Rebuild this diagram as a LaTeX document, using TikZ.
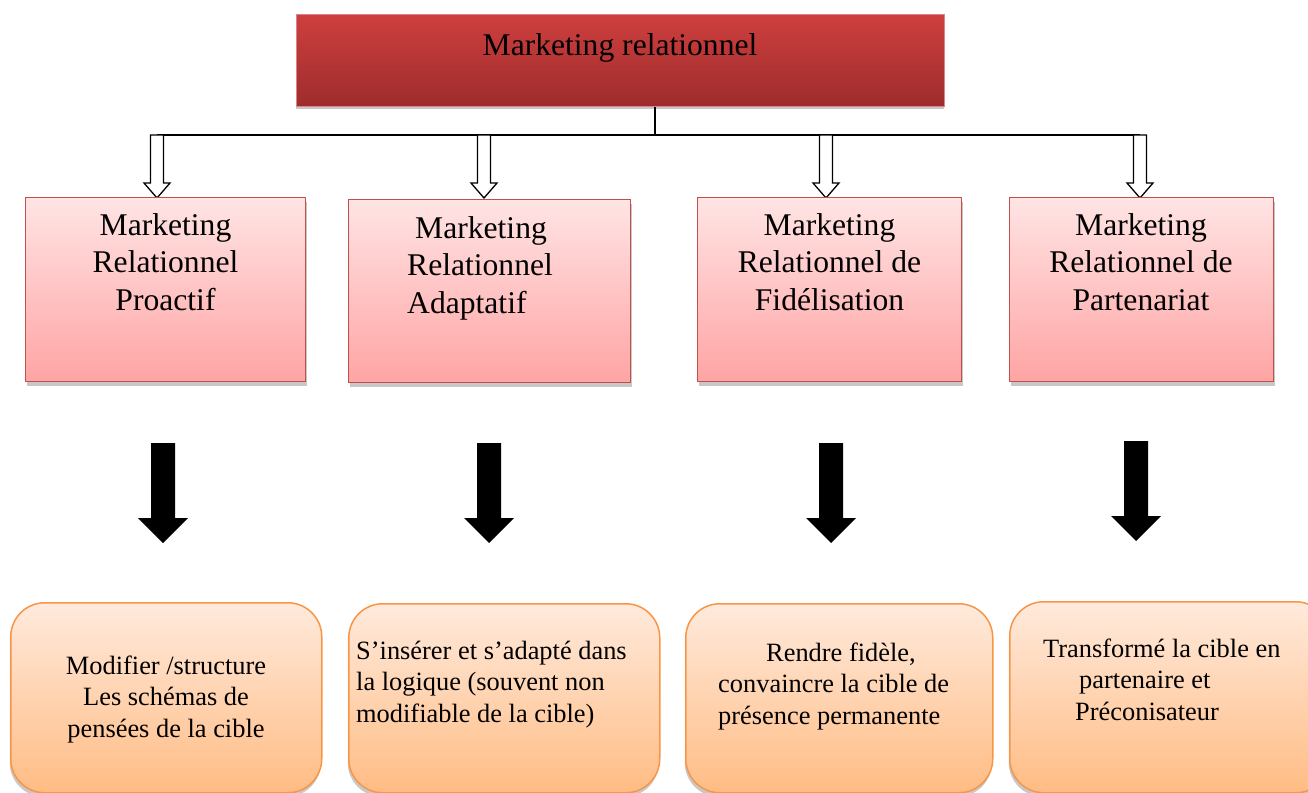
\documentclass[tikz,border=0pt]{standalone}
\usepackage{fontspec}
\setmainfont{Liberation Serif}
\usetikzlibrary{shadows}

\definecolor{headtop}{HTML}{CE3F3F}
\definecolor{headbot}{HTML}{9E2C2C}
\definecolor{headedge}{HTML}{D98585}
\definecolor{pinktop}{HTML}{FFE4E4}
\definecolor{pinkbot}{HTML}{FFA4A4}
\definecolor{pinkedge}{HTML}{C0504D}
\definecolor{orangetop}{HTML}{FFEADC}
\definecolor{orangebot}{HTML}{FFBC84}
\definecolor{orangeedge}{HTML}{F79646}
\definecolor{shadowgray}{HTML}{C8C8C8}

\begin{document}
\begin{tikzpicture}[x=1pt,y=-1pt,
  headbox/.style={draw=headedge, line width=0.8pt, top color=headtop, bottom color=headbot,
    drop shadow={shadow xshift=0pt, shadow yshift=-3pt, fill=shadowgray, opacity=1},
    inner sep=0pt, anchor=north west},
  pinkbox/.style={draw=pinkedge, line width=1.2pt, top color=pinktop, bottom color=pinkbot,
    drop shadow={shadow xshift=1pt, shadow yshift=-4pt, fill=shadowgray, opacity=1},
    inner sep=0pt, anchor=north west},
  orangebox/.style={draw=orangeedge, line width=1.5pt, top color=orangetop, bottom color=orangebot,
    rounded corners=34pt,
    drop shadow={shadow xshift=-1pt, shadow yshift=-4pt, fill=shadowgray, opacity=1},
    inner sep=0pt, anchor=north west},
  % multi-line texts are placed by the baseline of their last line
  bigtext/.style={font=\fontsize{31.6}{37.5}\selectfont, inner sep=0pt, anchor=base},
  smalltext/.style={font=\fontsize{26.4}{31.5}\selectfont, inner sep=0pt, anchor=base},
  hollowarrow/.pic={
    \draw[line width=1.3pt, fill=white] (-6.5,0) -- (-6.5,48) -- (-13,48) -- (0,63)
      -- (13,48) -- (6.5,48) -- (6.5,0) -- cycle;},
  solidarrow/.pic={
    \fill[black] (-12,0) -- (-12,75) -- (-25,75) -- (0,100) -- (25,75) -- (12,75)
      -- (12,0) -- cycle;}
]
\useasboundingbox (0,0) rectangle (1308,792);
\clip (0,0) rectangle (1308,792);

% head box
\node[headbox, minimum width=648pt, minimum height=92pt] (top) at (296,14) {};
\node[bigtext] (toptext) at (620,56) {Marketing relationnel};

% bus from the head box to the four branches
\coordinate (bus1) at (157,135);
\coordinate (bus2) at (484,135);
\coordinate (bus3) at (826,135);
\coordinate (bus4) at (1140,135);
\draw[line width=1.3pt] (top.south -| 655,0) -- (655,135);
\draw[line width=1.3pt] (bus1) -- (bus4);
\foreach \b in {bus1,bus2,bus3,bus4}
  \pic at (\b) {hollowarrow};

% second level
\node[pinkbox, minimum width=280pt, minimum height=184pt] (p1) at (25,197) {};
\node[pinkbox, minimum width=282pt, minimum height=183pt] (p2) at (348,199) {};
\node[pinkbox, minimum width=264pt, minimum height=184pt] (p3) at (697,197) {};
\node[pinkbox, minimum width=264pt, minimum height=184pt] (p4) at (1009,197) {};

\node[bigtext, align=center] (p1t) at (165.5,310) {Marketing\\Relationnel\\Proactif};
\node[bigtext, align=left, anchor=base west] (p2t) at (407,313) {\hspace*{8pt}Marketing\\Relationnel\\Adaptatif};
\node[bigtext, align=center] (p3t) at (829.5,310) {Marketing\\Relationnel de\\Fidélisation};
\node[bigtext, align=center] (p4t) at (1141,310) {Marketing\\Relationnel de\\Partenariat};

% solid arrows
\pic at (163,443) {solidarrow};
\pic at (489,443) {solidarrow};
\pic at (831,443) {solidarrow};
\pic at (1136,441) {solidarrow};

% third level
\node[orangebox, minimum width=311pt, minimum height=190pt] (o1) at (10,602) {};
\node[orangebox, minimum width=311pt, minimum height=189pt] (o2) at (348,603) {};
\node[orangebox, minimum width=307pt, minimum height=189pt] (o3) at (685,603) {};
\node[orangebox, minimum width=320pt, minimum height=191pt] (o4) at (1009,601) {};

\node[smalltext, align=center] (o1t) at (166,737) {Modifier /structure\\Les schémas de\\pensées de la cible};
\node[smalltext, align=left, anchor=base west] (o2t) at (356,722) {S’insérer et s’adapté dans\\la logique (souvent non\\modifiable de la cible)};
\node[smalltext, align=left, anchor=base west] (o3t) at (718,724) {\hspace*{48pt}Rendre fidèle,\\convaincre la cible de\\présence permanente};
\node[smalltext, align=left, anchor=base west] (o4t) at (1043,720) {Transformé la cible en\\\hspace*{36pt}partenaire et\\\hspace*{32pt}Préconisateur};
\end{tikzpicture}
\end{document}
